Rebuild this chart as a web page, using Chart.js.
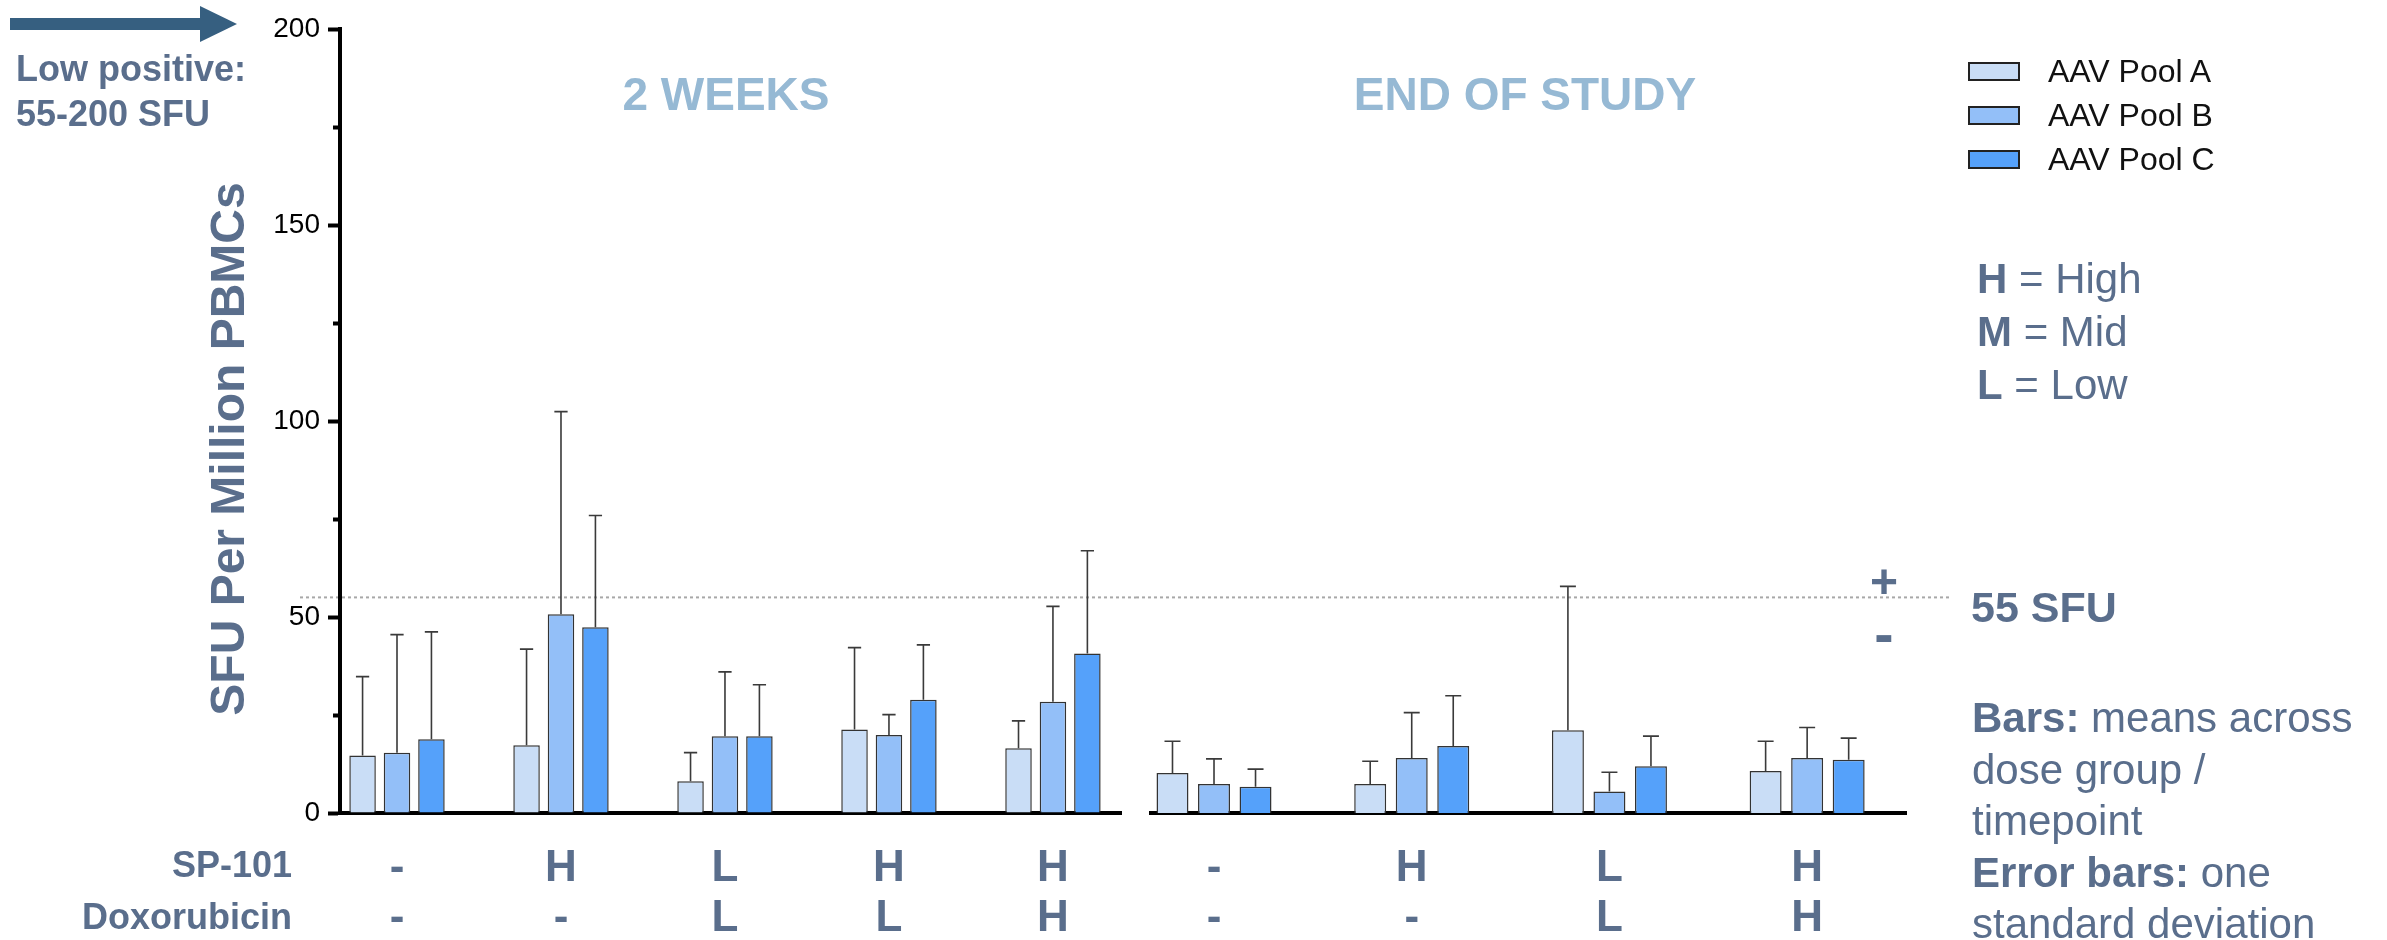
<!DOCTYPE html>
<html>
<head>
<meta charset="utf-8">
<script src="https://cdn.jsdelivr.net/npm/chart.js@4.4.1/dist/chart.umd.min.js"></script>
<style>
  html, body { margin: 0; padding: 0; background: #fff; }
  body { width: 2387px; height: 940px; position: relative; overflow: hidden;
         font-family: 'Liberation Sans', Arial, sans-serif; }
  canvas { position: absolute; top: 0; }
  #cL { left: 0; }
  #cR { left: 1136px; }
  .t { position: absolute; white-space: nowrap; color: #5a6e8c; line-height: 1; }
  .b { font-weight: bold; }
  .panel { color: #96b9d4; font-weight: bold; font-size: 46px; width: 500px; text-align: center; }
  .note { font-size: 42px; }
  .lg-box { position: absolute; width: 52px; height: 19px; box-sizing: border-box; border: 2px solid #222; }
  .lg-txt { position: absolute; font-size: 32px; line-height: 1; color: #111; white-space: nowrap; }
</style>
</head>
<body>
<canvas id="cL" width="1136" height="940"></canvas>
<canvas id="cR" width="1251" height="940"></canvas>

<!-- range arrow and note, top left -->
<svg style="position:absolute;left:0;top:0" width="260" height="50">
  <rect x="10" y="18" width="192" height="12" fill="#365f80"/>
  <polygon points="200,6 237,24 200,42" fill="#365f80"/>
</svg>
<div class="t b" style="left:16px;top:51px;font-size:36px;">Low positive:</div>
<div class="t b" style="left:16px;top:96px;font-size:36px;">55-200 SFU</div>

<!-- panel headings -->
<div class="t panel" style="left:476px;top:71px;">2 WEEKS</div>
<div class="t panel" style="left:1275px;top:71px;">END OF STUDY</div>

<!-- value axis title -->
<div class="t b" style="left:-122px;top:425px;width:700px;height:48px;font-size:48px;text-align:center;transform:rotate(-90deg);">SFU Per Million PBMCs</div>

<!-- treatment row names -->
<div class="t b" style="left:0;width:292px;text-align:right;top:847px;font-size:36px;">SP-101</div>
<div class="t b" style="left:0;width:292px;text-align:right;top:899px;font-size:36px;">Doxorubicin</div>

<!-- threshold marks -->
<div class="t b" style="left:1860px;width:48px;text-align:center;top:558px;font-size:48px;">+</div>
<div class="t b" style="left:1860px;width:48px;text-align:center;top:605px;font-size:58px;">-</div>
<div class="t b" style="left:1971px;top:586px;font-size:43px;">55 SFU</div>

<!-- dose key -->
<div class="t note" style="left:1977px;top:258px;"><b>H</b> = High</div>
<div class="t note" style="left:1977px;top:311px;"><b>M</b> = Mid</div>
<div class="t note" style="left:1977px;top:364px;"><b>L</b> = Low</div>

<!-- notes -->
<div class="t note" style="left:1972px;top:692px;line-height:51.6px;">
  <b>Bars:</b> means across<br>dose group /<br>timepoint<br><b>Error bars:</b> one<br>standard deviation
</div>

<div id="legend"></div>

<script>
// ---- series and categories ----
const POOLS = ['AAV Pool A', 'AAV Pool B', 'AAV Pool C'];
const POOL_COLORS = ['#c9ddf6', '#93bff8', '#55a1fa'];

// dose labels per group (SP-101 row, Doxorubicin row)
const SP101_2W = ['-', 'H', 'L', 'H', 'H'];
const DOXO_2W  = ['-', '-', 'L', 'L', 'H'];
const SP101_EOS = ['-', 'H', 'L', 'H'];
const DOXO_EOS  = ['-', '-', 'L', 'H'];

// 2 weeks: means and standard deviations (SFU per million PBMCs)
const POOL_A_2W = [14.7, 17.3, 8.1, 21.3, 16.5];
const POOL_B_2W = [15.4, 50.7, 19.6, 19.9, 28.4];
const POOL_C_2W = [18.8, 47.4, 19.6, 28.9, 40.7];
const POOL_A_2W_SD = [20.1, 24.5, 7.3, 20.9, 7.0];
const POOL_B_2W_SD = [30.1, 51.7, 16.4, 5.2, 24.3];
const POOL_C_2W_SD = [27.4, 28.5, 13.1, 14.0, 26.2];

// end of study: means and standard deviations
const POOL_A_EOS = [10.2, 7.4, 21.1, 10.7];
const POOL_B_EOS = [7.4, 14.0, 5.5, 14.0];
const POOL_C_EOS = [6.7, 17.1, 11.9, 13.6];
const POOL_A_EOS_SD = [8.1, 5.8, 36.7, 7.6];
const POOL_B_EOS_SD = [6.4, 11.6, 4.9, 7.8];
const POOL_C_EOS_SD = [4.5, 12.8, 7.7, 5.5];

const Y_LABELLED_TICKS = [0, 50, 100, 150, 200];
const Y_MIN = 0, Y_MAX = 200, Y_STEP = 25;
const THRESHOLD = 55;

const SLATE = '#5a6e8c';
Chart.defaults.font.family = "'Liberation Sans', Arial, sans-serif";

// upper whisker of mean + SD, with a cap half as wide as the bar
const errorBars = {
  id: 'errorBars',
  afterDatasetsDraw(chart, args, opts) {
    const { ctx, scales: { y } } = chart;
    ctx.save();
    ctx.strokeStyle = opts.color;
    ctx.lineWidth = opts.width;
    chart.data.datasets.forEach((ds, di) => {
      const meta = chart.getDatasetMeta(di);
      meta.data.forEach((bar, i) => {
        const { x, y: yTop, width } = bar.getProps(['x', 'y', 'width'], true);
        const yEnd = y.getPixelForValue(ds.data[i].y + ds.sd[i]);
        const half = width * opts.capRatio / 2;
        ctx.beginPath();
        ctx.moveTo(x, yTop);
        ctx.lineTo(x, yEnd);
        ctx.moveTo(x - half, yEnd);
        ctx.lineTo(x + half, yEnd);
        ctx.stroke();
      });
    });
    ctx.restore();
  }
};

// dotted positivity cut-off across the panel
const thresholdLine = {
  id: 'thresholdLine',
  beforeDraw(chart, args, opts) {
    const { ctx, chartArea, scales: { y } } = chart;
    const py = y.getPixelForValue(opts.value);
    ctx.save();
    ctx.setLineDash([3, 3]);
    ctx.lineWidth = 2;
    ctx.strokeStyle = '#a8a8a8';
    ctx.beginPath();
    ctx.moveTo(chartArea.left - opts.extendLeft, py);
    ctx.lineTo(chartArea.right + opts.extendRight, py);
    ctx.stroke();
    ctx.restore();
  }
};

function makePanel(canvasId, cfg) {
  const datasets = POOLS.map((name, k) => ({
    label: name,
    data: cfg.means[k].map((v, i) => ({ x: i, y: v })),
    sd: cfg.sds[k],
    backgroundColor: POOL_COLORS[k],
    borderColor: '#333',
    borderWidth: 1.5,
    categoryPercentage: 0.63,
    barPercentage: 0.77
  }));

  return new Chart(document.getElementById(canvasId), {
    type: 'bar',
    data: { datasets },
    options: {
      responsive: false,
      animation: false,
      events: [],
      layout: { padding: cfg.padding },
      plugins: {
        legend: { display: false },
        tooltip: { enabled: false },
        errorBars: { color: '#3a3a3a', width: 1.6, capRatio: 0.5 },
        thresholdLine: { value: THRESHOLD, extendLeft: cfg.lineLeft, extendRight: cfg.lineRight }
      },
      scales: {
        x: {
          type: 'linear',
          min: cfg.xMin,
          max: cfg.xMax,
          bounds: 'data',
          offset: false,
          grid: { display: false, drawTicks: false, offset: false },
          border: { display: true, color: '#000', width: 4 },
          afterBuildTicks: (s) => { s.ticks = cfg.sp.map((_, i) => ({ value: i })); },
          afterFit: (s) => { s.height = 127; },
          ticks: {
            autoSkip: false,
            maxRotation: 0,
            padding: 31,
            color: SLATE,
            font: { size: 44, weight: 'bold', lineHeight: 50 / 44 },
            callback: (v) => [cfg.sp[v], cfg.dox[v]]
          }
        },
        y: {
          display: cfg.showY,
          min: Y_MIN,
          max: Y_MAX,
          afterFit: (s) => { s.width = cfg.showY ? 340 : 0; },
          grid: {
            drawOnChartArea: false,
            drawTicks: true,
            tickLength: 12,
            tickWidth: 4,
            tickColor: '#000',
            tickBorderDash: (c) => (c.tick && !Y_LABELLED_TICKS.includes(c.tick.value)) ? [0, 5, 50] : []
          },
          border: { display: true, color: '#000', width: 4 },
          ticks: {
            stepSize: Y_STEP,
            padding: 8,
            color: '#000',
            font: { size: 28 },
            callback: (v) => Y_LABELLED_TICKS.includes(v) ? String(v) : ''
          }
        }
      }
    },
    plugins: [thresholdLine, errorBars]
  });
}

const chartL = makePanel('cL', {
  sp: SP101_2W, dox: DOXO_2W,
  means: [POOL_A_2W, POOL_B_2W, POOL_C_2W],
  sds: [POOL_A_2W_SD, POOL_B_2W_SD, POOL_C_2W_SD],
  xMin: -0.3476, xMax: 4.415,
  padding: { top: 29, right: 15, bottom: 0, left: 0 },
  showY: true, lineLeft: 40, lineRight: 15
});

const chartR = makePanel('cR', {
  sp: SP101_EOS, dox: DOXO_EOS,
  means: [POOL_A_EOS, POOL_B_EOS, POOL_C_EOS],
  sds: [POOL_A_EOS_SD, POOL_B_EOS_SD, POOL_C_EOS_SD],
  xMin: -0.3187, xMax: 3.5,
  padding: { top: 29, right: 481, bottom: 0, left: 15 },
  showY: false, lineLeft: 15, lineRight: 45
});

// legend built from the datasets of the end-of-study panel
const legendEl = document.getElementById('legend');
chartR.data.datasets.forEach((ds, k) => {
  const box = document.createElement('div');
  box.className = 'lg-box';
  box.style.left = '1968px';
  box.style.top = (62 + 44 * k) + 'px';
  box.style.background = ds.backgroundColor;
  const txt = document.createElement('div');
  txt.className = 'lg-txt';
  txt.style.left = '2048px';
  txt.style.top = (54.6 + 44 * k) + 'px';
  txt.textContent = ds.label;
  legendEl.appendChild(box);
  legendEl.appendChild(txt);
});
</script>
</body>
</html>
